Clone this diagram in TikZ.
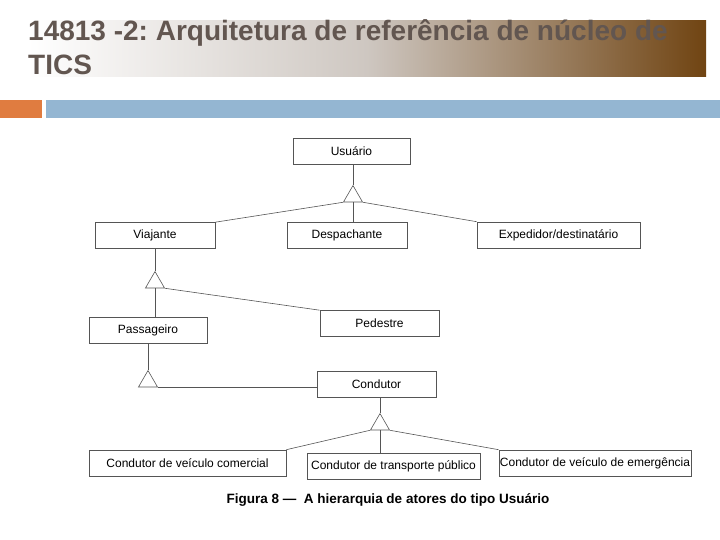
\documentclass[tikz,border=0pt]{standalone}
\usepackage{fontspec}
\setmainfont{Liberation Sans}
\usetikzlibrary{shapes.geometric}
\frenchspacing
\definecolor{titletext}{RGB}{98,86,80}
\definecolor{titlemid}{RGB}{206,199,193}
\definecolor{titlebrown}{RGB}{112,68,18}
\definecolor{barorange}{RGB}{224,124,64}
\definecolor{barblue}{RGB}{148,182,210}
\definecolor{linegray}{RGB}{85,85,85}

\begin{document}
\begin{tikzpicture}[x=1pt,y=-1pt,
  actor/.style={draw=linegray,line width=0.6pt,minimum height=26pt,inner sep=1pt,font=\fontsize{12}{14}\selectfont},
  gen/.style={draw=linegray,line width=0.6pt,regular polygon,regular polygon sides=3,minimum size=22pt,inner sep=0pt},
  link/.style={draw=linegray,line width=0.6pt}]
\useasboundingbox (0,0) rectangle (720,540);

% cabecalho
\shade[left color=white,right color=titlebrown,middle color=titlemid] (28,21) rectangle (706,77);
\node[anchor=base west,inner sep=0pt,text=titletext,font=\fontsize{28}{34}\bfseries\selectfont] (titulo_1) at (28,41) {14813 -2: Arquitetura de referência de núcleo de};
\node[anchor=base west,inner sep=0pt,text=titletext,font=\fontsize{28}{34}\bfseries\selectfont] (titulo_2) at (28,75) {TICS};
\fill[barorange] (0,100) rectangle (42,118);
\fill[barblue] (46,100) rectangle (720,118);

% atores
\node[actor,minimum width=117pt] (usuario)     at (351.5,151.5) {Usuário};
\node[gen]                       (g_1)         at (353,196.5)   {};
\node[actor,minimum width=120pt] (viajante)    at (155,235.5)   {Viajante};
\node[actor,minimum width=120pt] (despachante) at (347,235)     {Despachante};
\node[actor,minimum width=163pt] (expedidor)   at (558.5,235)   {Expedidor/destinatário};
\node[gen]                       (g_2)         at (155,282.5)   {};
\node[actor,minimum width=118pt] (passageiro)  at (148,330)     {Passageiro};
\node[actor,minimum width=119pt] (pedestre)    at (379.5,323.5) {Pedestre};
\node[gen]                       (g_3)         at (148,381.5)   {};
\node[actor,minimum width=119pt] (condutor)    at (376.5,384)   {Condutor};
\node[gen]                       (g_4)         at (380,424.5)   {};
\node[actor,minimum width=197pt] (comercial)   at (187.5,463)   {Condutor de veículo comercial};
\node[actor,minimum width=173pt] (publico)     at (393.5,466.5) {Condutor de transporte público};
\node[actor,minimum width=192pt] (emergencia)  at (595,463)     {Condutor de veículo de emergência};

\node[font=\fontsize{13.5}{16}\bfseries\selectfont] (legenda) at (388,500) {Figura 8 —\ \ A hierarquia de atores do tipo Usuário};

\path[link]
  (g_1.north |- usuario.south) edge (g_1.north)
  (g_1.corner 2)    edge (viajante.north east)
  (g_1.south)       edge (g_1.south |- despachante.north)
  (g_1.corner 3)    edge (expedidor.north west)
  (viajante.south)  edge (g_2.north)
  (g_2.south)       edge (g_2.south |- passageiro.north)
  (g_2.corner 3)    edge (pedestre.north west)
  (passageiro.south) edge (g_3.north)
  (g_3.corner 3)    edge (g_3.corner 3 -| condutor.west)
  (g_4.north |- condutor.south) edge (g_4.north)
  (g_4.corner 2)    edge (comercial.north east)
  (g_4.south)       edge (g_4.south |- publico.north)
  (g_4.corner 3)    edge (emergencia.north west);
\end{tikzpicture}
\end{document}
